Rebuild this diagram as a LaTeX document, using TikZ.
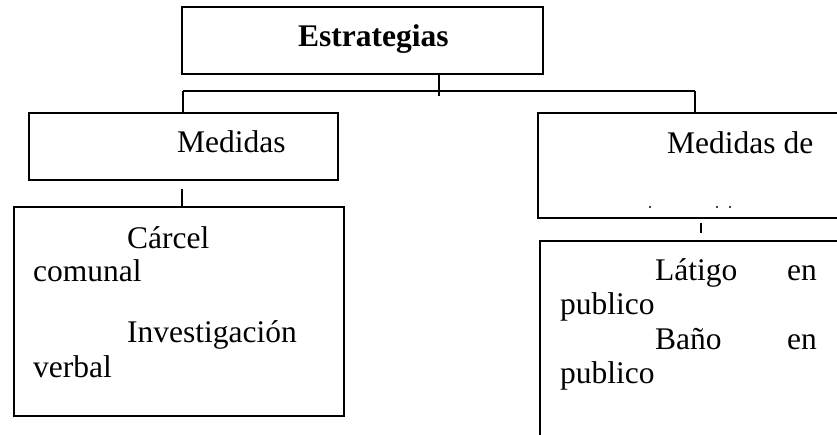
\documentclass[tikz,border=0pt]{standalone}
\usepackage{fontspec}
\setmainfont{Liberation Serif}
\tikzset{
  caja/.style={draw, line width=1.8pt, inner sep=0pt, anchor=north west},
  linea/.style={line width=1.3pt},
  texto/.style={anchor=base west, inner sep=0pt, font=\fontsize{31.5}{38}\selectfont},
}
\begin{document}
\begin{tikzpicture}[x=1pt,y=-1pt]
\useasboundingbox (0,0) rectangle (837,434);
\clip (0,0) rectangle (837,434);

\node[caja, minimum width=361pt, minimum height=67pt] (estr) at (181,6) {};
\node[caja, minimum width=309pt, minimum height=67pt] (medA) at (28,112) {};
\node[caja, minimum width=360pt, minimum height=105pt] (medB) at (537,112) {};
\node[caja, minimum width=330pt, minimum height=209pt] (accA) at (13,206) {};
\node[caja, minimum width=360pt, minimum height=260pt] (accB) at (539,240) {};

\coordinate (rama) at (439,91);
\coordinate (ramaA) at (183,91);
\coordinate (ramaB) at (695,91);

\draw[linea] (estr.south -| rama) -- ++(0,21);
\draw[linea] (ramaA) -- (ramaB);
\draw[linea] (ramaA) -- (medA.north -| ramaA);
\draw[linea] (ramaB) -- (medB.north -| ramaB);
\draw[linea, shorten <=8pt] (medA.south -| 182,0) -- (accA.north -| 182,0);
\draw[linea, shorten <=4pt, shorten >=7pt] (medB.south -| 701,0) -- (accB.north -| 701,0);

\node[texto] (tEstr) at (298,46) {\bfseries Estrategias};
\node[texto] (tMedA) at (177,152) {Medidas};
\node[texto] (tMedB) at (667,153) {Medidas de};
\foreach \x in {650,717,730} \fill (\x,207) circle (1.1pt); % resto de la segunda linea

\node[texto] (tCarcel) at (127,248) {Cárcel};
\node[texto] (tComunal) at (33,281) {comunal};
\node[texto] (tInvest) at (127,342) {Investigación};
\node[texto] (tVerbal) at (33,377) {verbal};

\node[texto] (tLatigo) at (655,280) {Látigo};
\node[texto] (tEnA) at (787,280) {en};
\node[texto] (tPubA) at (560,314) {publico};
\node[texto] (tBano) at (655,349) {Baño};
\node[texto] (tEnB) at (787,349) {en};
\node[texto] (tPubB) at (560,383) {publico};
\end{tikzpicture}
\end{document}
